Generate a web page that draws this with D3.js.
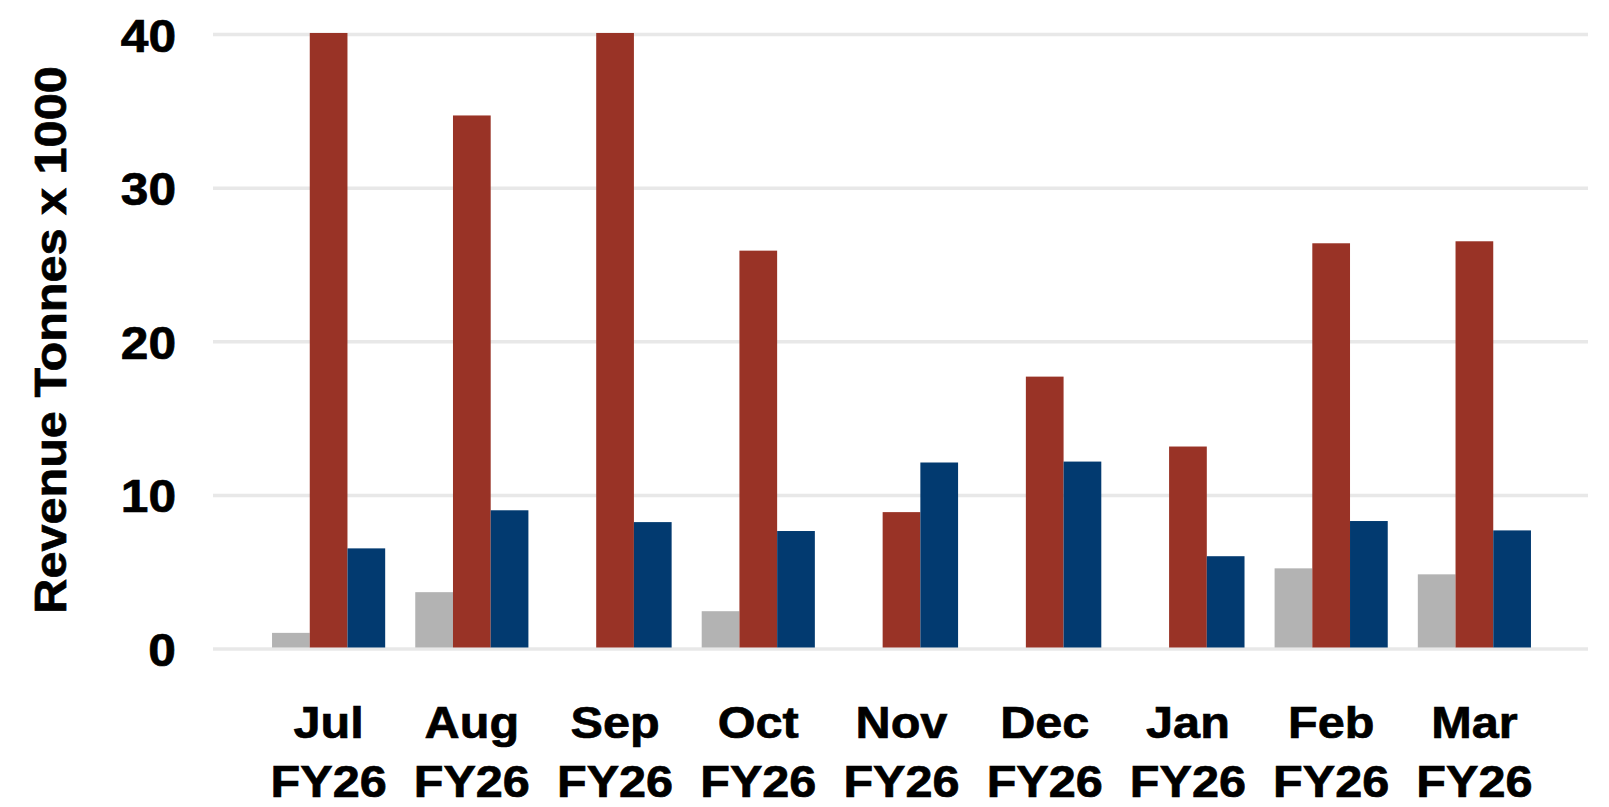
<!DOCTYPE html>
<html>
<head>
<meta charset="utf-8">
<script src="https://cdn.jsdelivr.net/npm/d3@7"></script>
<style>
  html, body { margin: 0; padding: 0; background: #fff; }
  svg { display: block; }
  text { font-family: "Liberation Sans", Arial, sans-serif; font-weight: bold; fill: #000; stroke: #000; stroke-width: 0.7px; }
</style>
</head>
<body>
<svg id="chart"></svg>
<script>
const months = ['Jul', 'Aug', 'Sep', 'Oct', 'Nov', 'Dec', 'Jan', 'Feb', 'Mar'];
const yearLabel = 'FY26';
const seriesNames = ['Series 1', 'Series 2', 'Series 3'];
const greyValues = [1.05, 3.7, 0, 2.46, 0, 0, 0, 5.25, 4.86];
const redValues = [40.1, 34.73, 40.1, 25.93, 8.91, 17.73, 13.18, 26.41, 26.54];
const blueValues = [6.55, 9.03, 8.26, 7.68, 12.14, 12.2, 6.04, 8.33, 7.72];
const yTicks = [0, 10, 20, 30, 40];
const colors = ['#b3b3b3', '#993326', '#023a70'];

const width = 1609, height = 807;
const gridLeft = 213, gridRight = 1588;

const svg = d3.select('#chart').attr('width', width).attr('height', height);

const seriesValues = [greyValues, redValues, blueValues];
const rows = months.map((m, i) => ({ month: m, values: seriesValues.map((s, k) => ({ key: seriesNames[k], value: s[i] })) }));

const x0 = d3.scaleBand()
  .domain(months)
  .range([257, 1546])
  .paddingInner(0.21)
  .paddingOuter(0.105);

const x1 = d3.scaleBand()
  .domain(seriesNames)
  .range([0, x0.bandwidth()]);

const y = d3.scaleLinear()
  .domain([0, 40])
  .range([649, 34.5]);

const color = d3.scaleOrdinal().domain(seriesNames).range(colors);

// gridlines
svg.append('g')
  .selectAll('line')
  .data(yTicks)
  .enter().append('line')
  .attr('x1', gridLeft)
  .attr('x2', gridRight)
  .attr('y1', d => y(d))
  .attr('y2', d => y(d))
  .attr('stroke', '#e8e8e8')
  .attr('stroke-width', 3.5);

// bars (clipped at the top of the value axis)
svg.append('clipPath').attr('id', 'plotClip')
  .append('rect')
  .attr('x', gridLeft).attr('y', y(40) - 2.5)
  .attr('width', gridRight - gridLeft).attr('height', y(0) - y(40) + 2.5);

svg.append('g')
  .attr('clip-path', 'url(#plotClip)')
  .selectAll('g')
  .data(rows)
  .enter().append('g')
  .attr('transform', d => `translate(${x0(d.month)},0)`)
  .selectAll('rect')
  .data(d => d.values.filter(v => v.value > 0))
  .enter().append('rect')
  .attr('x', d => x1(d.key))
  .attr('width', x1.bandwidth())
  .attr('y', d => y(d.value))
  .attr('height', d => y(0) - y(d.value) - 1.5)
  .attr('fill', d => color(d.key));

// y axis
const yAxis = svg.append('g')
  .attr('transform', 'translate(176,0)')
  .call(d3.axisLeft(y).tickValues(yTicks).tickSize(0).tickPadding(0));
yAxis.select('.domain').remove();
yAxis.selectAll('text')
  .style('font-size', '46px')
  .attr('dy', '0.36em')
  .attr('transform', 'scale(1.08,1)');

// x axis, two-line labels
const xAxis = svg.append('g')
  .attr('transform', 'translate(0,700)')
  .call(d3.axisBottom(x0).tickSize(0));
xAxis.select('.domain').remove();
xAxis.selectAll('.tick text').each(function(d) {
  const t = d3.select(this);
  t.text(null)
    .attr('y', 0)
    .attr('dy', null)
    .style('font-size', '45px')
    .attr('transform', 'scale(1.08,1)');
  t.append('tspan').attr('x', 0).attr('y', 38).text(d);
  t.append('tspan').attr('x', 0).attr('y', 97).text(yearLabel);
});

// y axis title
svg.append('text')
  .attr('transform', 'translate(66,340) rotate(-90) scale(1.08,1)')
  .attr('text-anchor', 'middle')
  .style('font-size', '45px')
  .text('Revenue Tonnes x 1000');
</script>
</body>
</html>
